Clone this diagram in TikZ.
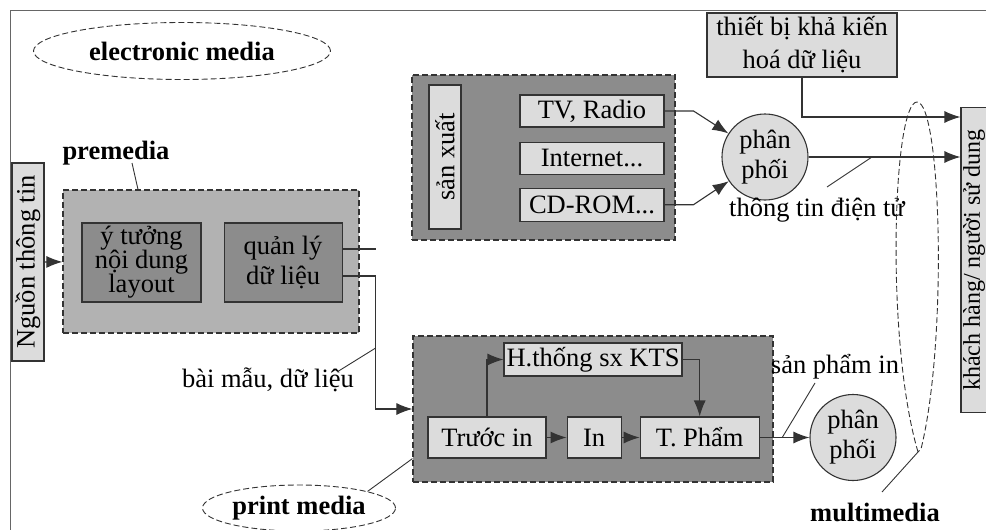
\documentclass[tikz,border=0pt]{standalone}
\usepackage{fontspec}
\setmainfont{Liberation Serif}
\usetikzlibrary{arrows.meta,positioning,shapes.geometric}
\definecolor{lgray}{HTML}{DCDCDC}
\definecolor{mgray}{HTML}{B2B2B2}
\definecolor{dgray}{HTML}{8C8C8C}
\definecolor{edge}{HTML}{333333}
\definecolor{rule}{HTML}{666666}

\begin{document}
\begin{tikzpicture}[x=1pt,y=-1pt,->,>={Latex[length=16pt,width=12pt]},line width=1.1pt,draw=edge,
  font=\fontsize{26.5}{30}\selectfont]
  \tikzstyle{lbox}=[draw=edge,fill=lgray,inner sep=0pt,minimum height=32pt]
  \tikzstyle{dbox}=[draw=edge,fill=dgray,inner sep=0pt,minimum height=79pt]
  \tikzstyle{group}=[draw=edge,dash pattern=on 6pt off 3pt,line width=1.2pt,inner sep=0pt]
  \tikzstyle{tag}=[ellipse,draw=edge,dash pattern=on 6pt off 3pt,line width=0.9pt,inner sep=0pt,font=\bfseries\fontsize{26.5}{30}\selectfont]
  \tikzstyle{lead}=[-,line width=0.9pt]

  \useasboundingbox (0,0) rectangle (986,530);
  \draw[-,rule,line width=1pt] (10,530) -- (10,10) -- (986,10);

  \node[tag,minimum width=297pt,minimum height=57pt] (emt) at (182,51) {electronic media};
  \node[tag,minimum width=193pt,minimum height=46pt] (pmt) at (299,508) {print media};
  \node[font=\bfseries\fontsize{26.5}{30}\selectfont] (pml) at (116,153) {premedia};
  \node[font=\bfseries\fontsize{26.5}{30}\selectfont] (mml) at (875,512) {multimedia};

  \node[lbox,rotate=90,minimum width=198pt] (src) at (28,262) {Nguồn thông tin};
  \node[group,fill=mgray,minimum width=296pt,minimum height=143pt] (pm) at (211,261.5) {};
  \node[dbox,minimum width=119pt,align=center] (idea) at (141.5,262.5) {ý tưởng\\[-6pt]nội dung\\[-6pt]layout};
  \node[dbox,minimum width=118pt,align=center] (qly) [right=22pt of idea] {quản lý\\dữ liệu};

  \node[group,fill=dgray,minimum width=263pt,minimum height=165pt] (prod) at (543.5,157.5) {};
  \node[lbox,rotate=90,minimum width=144pt] (sx) at (445,157) {sản xuất};
  \node[lbox,minimum width=144pt] (tv) at (592,111) {TV, Radio};
  \node[lbox,minimum width=144pt] (net) [below=14pt of tv] {Internet...};
  \node[lbox,minimum width=144pt,minimum height=33pt] (cd) [below=13pt of net] {CD-ROM...};
  \node[lbox,circle,minimum size=86pt,align=center] (pp1) at (765,157) {phân\\phối};
  \node[lbox,minimum width=190pt,minimum height=64pt,align=center] (tb) at (802,45) {thiết bị khả kiến\\[3pt]hoá dữ liệu};
  \node[lbox,rotate=90,minimum width=305pt,minimum height=26pt,font=\fontsize{24}{28}\selectfont] (kh) at (974,260) {khách hàng/ người sử dung};

  \node[group,fill=dgray,minimum width=360pt,minimum height=146pt] (prt) at (593,409) {};
  \node[lbox,minimum width=178pt,minimum height=33pt] (kts) at (593,359.5) {H.thống sx KTS};
  \node[lbox,minimum width=118pt,minimum height=41pt] (tin) at (487,437.5) {Trước in};
  \node[lbox,minimum width=54pt,minimum height=41pt] (press) [right=20pt of tin] {In};
  \node[lbox,minimum width=119pt,minimum height=41pt] (tp) [right=18pt of press] {T. Phẩm};
  \node[lbox,circle,minimum size=86pt,align=center] (pp2) at (853,437.5) {phân\\phối};

  \node (bml) at (268,380) {bài mẫu, dữ liệu};
  \node (ttl) at (817,210) {thông tin điện tử};
  \node (spl) at (835,367) {sản phẩm in};

  \draw (src) -- (pm);
  \draw[-] ([yshift=13.5pt]qly.east) -- ++(33,0);
  \draw ([yshift=-13.5pt]qly.east) -- ++(33,0) coordinate (bend) |- (prt.west);
  \draw (tv.east) -- ++(29,0) -- (pp1);
  \draw (cd.east) -- ++(29,0) -- (pp1);
  \draw (pp1) -- (pp1 -| kh.north);
  \draw (tb.south) |- ([yshift=143pt]kh.north);
  \draw (tin.north) |- (kts.west);
  \draw (kts.east) -| (tp.north);
  \draw (tin) -- (press);
  \draw (press) -- (tp);
  \draw (tp) -- (pp2);

  \draw[-,dash pattern=on 6pt off 3pt,line width=0.9pt] (918,452) .. controls (885,340) and (893,102) .. (917,102)
    .. controls (941,102) and (948,340) .. (921,449) -- cycle;
  \coordinate (mmtip) at (918,452);

  \draw[lead] ([xshift=16pt,yshift=-10pt]pml.center) -- ([xshift=-73pt]pm.north);
  \draw[lead] ([xshift=69pt,yshift=8pt]bml.center) -- ([yshift=-72pt]bend);
  \draw[lead] (pmt.north east) -- ([yshift=24pt]prt.south west);
  \draw[lead] ([xshift=10pt,yshift=23pt]ttl.center) -- ([xshift=107pt]pp1.center);
  \draw[lead] ([xshift=-20pt,yshift=-16pt]spl.center) -- ([xshift=22.5pt]tp.east);
  \draw[lead] ([xshift=7pt,yshift=20pt]mml.center) -- (mmtip);
\end{tikzpicture}
\end{document}
